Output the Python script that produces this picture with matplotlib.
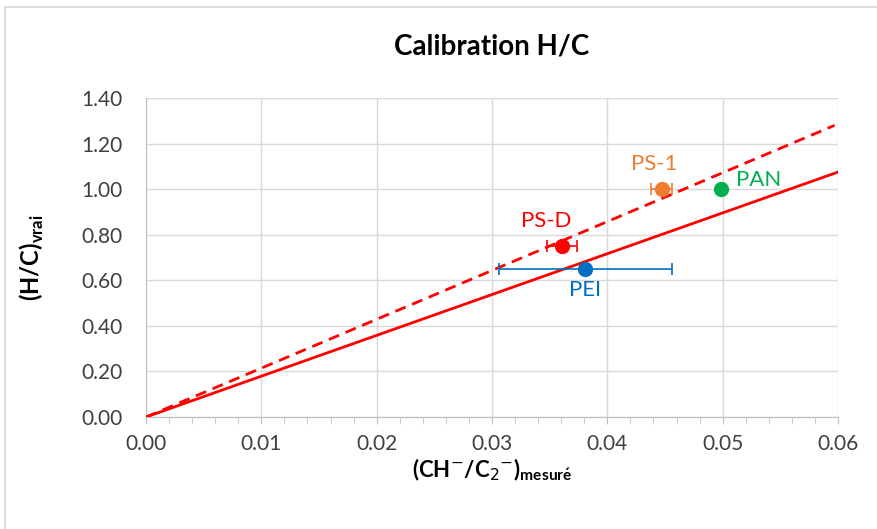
import matplotlib.pyplot as plt
from matplotlib.patches import Rectangle
from matplotlib.ticker import MultipleLocator, FormatStrFormatter

plt.rcParams['font.family'] = ['Lato', 'DejaVu Sans']

# samples: measured ratio, error on measured ratio, true H/C
names = ["PS-D", "PS-1", "PAN", "PEI"]
x_meas = [0.0361, 0.0447, 0.0499, 0.0381]
x_err = [0.0013, 0.0009, 0.0, 0.0075]
y_true = [0.75, 1.00, 1.00, 0.65]
colors = ["#FF0000", "#ED7D31", "#00B050", "#0070C0"]

# calibration lines (endpoints)
solid_x = [0.0, 0.06]
solid_y = [0.0, 1.075]
dash_x = [0.0, 0.0597]
dash_y = [0.0, 1.28]

fig = plt.figure(figsize=(8.77, 5.29), dpi=100)
fig.patches.append(Rectangle((0.006, -0.01), 1.1, 0.997, transform=fig.transFigure,
                             fill=False, edgecolor="#D9D9D9", linewidth=1.2))
ax = fig.add_axes([0.1665, 0.2117, 0.789, 0.603])

ax.plot(solid_x, solid_y, color="#FF0000", lw=2, zorder=3)
ax.plot(dash_x, dash_y, color="#FF0000", lw=2, ls=(0, (4, 2.5)), zorder=3)

for n, x, xe, y, c in zip(names, x_meas, x_err, y_true, colors):
    if xe > 0:
        lw = 1.2
        ax.errorbar(x, y, xerr=xe, fmt="none", ecolor=c, elinewidth=lw,
                    capsize=4, capthick=lw, zorder=4)
    ax.plot(x, y, "o", color=c, ms=10, zorder=5)

ax.text(x_meas[0] - 0.0014, y_true[0] + 0.065, "PS-D", color=colors[0], fontsize=16, ha="center", va="bottom")
ax.text(x_meas[1] - 0.0006, y_true[1] + 0.065, "PS-1", color=colors[1], fontsize=16, ha="center", va="bottom")
ax.text(x_meas[2] + 0.0013, y_true[2] + 0.04, "PAN", color=colors[2], fontsize=16, ha="left", va="center")
ax.text(x_meas[3] + 0.0, y_true[3] - 0.05, "PEI", color=colors[3], fontsize=16, ha="center", va="top")

ax.set_xlim(0, 0.06)
ax.set_ylim(0, 1.4)
ax.xaxis.set_major_locator(MultipleLocator(0.01))
ax.xaxis.set_minor_locator(MultipleLocator(0.002))
ax.yaxis.set_major_locator(MultipleLocator(0.2))
ax.xaxis.set_major_formatter(FormatStrFormatter("%.2f"))
ax.yaxis.set_major_formatter(FormatStrFormatter("%.2f"))
ax.grid(True, color="#D9D9D9", lw=1)
ax.set_axisbelow(True)
for s in ["top", "right"]:
    ax.spines[s].set_visible(False)
ax.spines["left"].set_color("#BFBFBF")
ax.spines["bottom"].set_color("#BFBFBF")
ax.tick_params(axis="x", which="both", direction="out", length=5, color="#BFBFBF",
               labelsize=15, labelcolor="#404040", pad=7)
ax.tick_params(axis="y", length=0, labelsize=15, labelcolor="#404040", pad=17)

ax.set_title("Calibration H/C", fontsize=20, fontweight="bold", pad=31)
ax.set_xlabel(r"(CH$^{-}$/C$_2$$^{-}$)$_{\mathregular{mesur\'e}}$", fontsize=16, fontweight="bold", labelpad=2)
ax.set_ylabel(r"(H/C)$_{\mathregular{vrai}}$", fontsize=17, fontweight="bold", labelpad=25)

fig.savefig("out.png", dpi=100)
